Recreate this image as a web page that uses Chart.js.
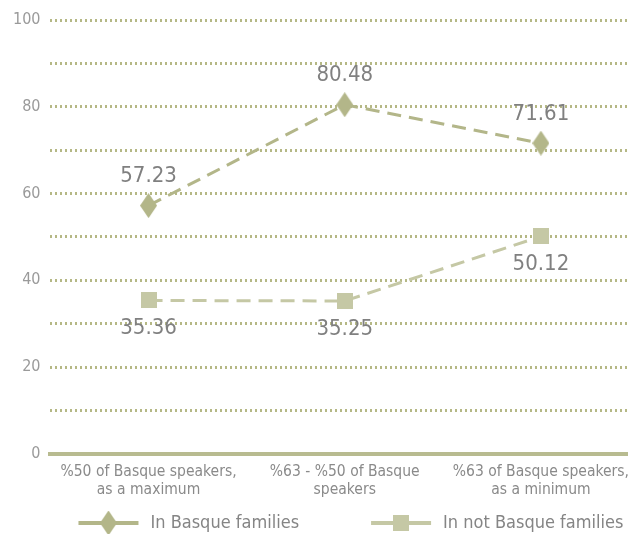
<!DOCTYPE html>
<html>
<head>
<meta charset="utf-8">
<script src="https://cdn.jsdelivr.net/npm/chart.js@4.4.1/dist/chart.umd.min.js"></script>
<style>
  html, body { margin: 0; padding: 0; background: #ffffff; overflow: hidden; }
  #wrap { width: 646px; height: 534px; position: relative; }
</style>
</head>
<body>
<div id="wrap"><canvas id="chart"></canvas></div>
<script>
// Categorias e valores
const categories = [
  ["%50 of Basque speakers,", "as a maximum"],
  ["%63 - %50 of Basque", "speakers"],
  ["%63 of Basque speakers,", "as a minimum"],
];
const basqueFamilies = [57.23, 80.48, 71.61];
const notBasqueFamilies = [35.36, 35.25, 50.12];
const seriesNames = ["In Basque families", "In not Basque families"];

const FONT = "'DejaVu Sans Condensed', 'DejaVu Sans', sans-serif";
const colDiamond = "#b3b689";
const colSquare = "#c5c8a5";

// Marcadores desenhados num canvas
const makeDiamond = (w, h, color) => {
  const c = document.createElement("canvas");
  c.width = w; c.height = h;
  const g = c.getContext("2d");
  g.fillStyle = color;
  g.beginPath();
  g.moveTo(w / 2, 0);
  g.lineTo(w, h / 2);
  g.lineTo(w / 2, h);
  g.lineTo(0, h / 2);
  g.closePath();
  g.fill();
  return c;
};
const makeSquare = (s, color) => {
  const c = document.createElement("canvas");
  c.width = s; c.height = s;
  const g = c.getContext("2d");
  g.fillStyle = color;
  g.fillRect(0, 0, s, s);
  return c;
};
const diamondImg = makeDiamond(17, 25, colDiamond);
const squareImg = makeSquare(16, colSquare);

// Plugin: valores junto aos pontos
const valueLabels = {
  id: "valueLabels",
  afterDatasetsDraw(chart) {
    const ctx = chart.ctx;
    ctx.save();
    ctx.font = "22px " + FONT;
    ctx.fillStyle = "#808080";
    ctx.textAlign = "center";
    ctx.textBaseline = "middle";
    chart.data.datasets.forEach((ds, i) => {
      const meta = chart.getDatasetMeta(i);
      meta.data.forEach((pt, j) => {
        const dy = ds.labelPos === "below" ? 28 : -29;
        ctx.fillText(ds.data[j].toFixed(2), pt.x, pt.y + dy);
      });
    });
    ctx.restore();
  },
};

// Plugin: legenda com linha e marcador
const lineLegend = {
  id: "lineLegend",
  afterDraw(chart) {
    const ctx = chart.ctx;
    ctx.save();
    ctx.font = "18px " + FONT;
    ctx.textBaseline = "middle";
    const y = chart.height - 11;
    let x = chart.chartArea.left + 28;
    chart.data.datasets.forEach((ds) => {
      ctx.strokeStyle = ds.borderColor;
      ctx.lineWidth = 4;
      ctx.beginPath();
      ctx.moveTo(x, y);
      ctx.lineTo(x + 60, y);
      ctx.stroke();
      const img = ds.pointStyle;
      ctx.drawImage(img, x + 30 - img.width / 2, y - img.height / 2);
      ctx.fillStyle = "#858585";
      ctx.fillText(ds.label, x + 72, y);
      x += 72 + ctx.measureText(ds.label).width + 72;
    });
    ctx.restore();
  },
};

new Chart(document.getElementById("chart"), {
  type: "line",
  plugins: [valueLabels, lineLegend],
  data: {
    labels: categories,
    datasets: [
      {
        label: seriesNames[0],
        data: basqueFamilies,
        borderColor: colDiamond,
        borderWidth: 3,
        borderDash: [14, 8],
        pointStyle: diamondImg,
        labelPos: "above",
      },
      {
        label: seriesNames[1],
        data: notBasqueFamilies,
        borderColor: colSquare,
        borderWidth: 3,
        borderDash: [14, 8],
        pointStyle: squareImg,
        labelPos: "below",
      },
    ],
  },
  options: {
    responsive: true,
    maintainAspectRatio: false,
    animation: false,
    layout: { padding: { top: 20, right: 0, bottom: 34, left: 3 } },
    plugins: {
      legend: { display: false },
      tooltip: { enabled: false },
    },
    scales: {
      x: {
        offset: true,
        grid: { display: false },
        border: { display: true, color: "#b8bb90", width: 4 },
        ticks: {
          color: "#8a8a8a",
          font: { family: FONT, size: 15.5, lineHeight: 1.1 },
          padding: 2,
          maxRotation: 0,
        },
      },
      y: {
        min: 0,
        max: 100,
        grid: {
          color: "#b5b885",
          lineWidth: 3,
          drawTicks: false,
        },
        border: { display: false, dash: [2, 3] },
        ticks: {
          stepSize: 10,
          padding: 10,
          color: "#9a9a9a",
          font: { family: FONT, size: 16 },
          callback: (v) => (v % 20 === 0 ? v : ""),
        },
      },
    },
  },
});
</script>
</body>
</html>
